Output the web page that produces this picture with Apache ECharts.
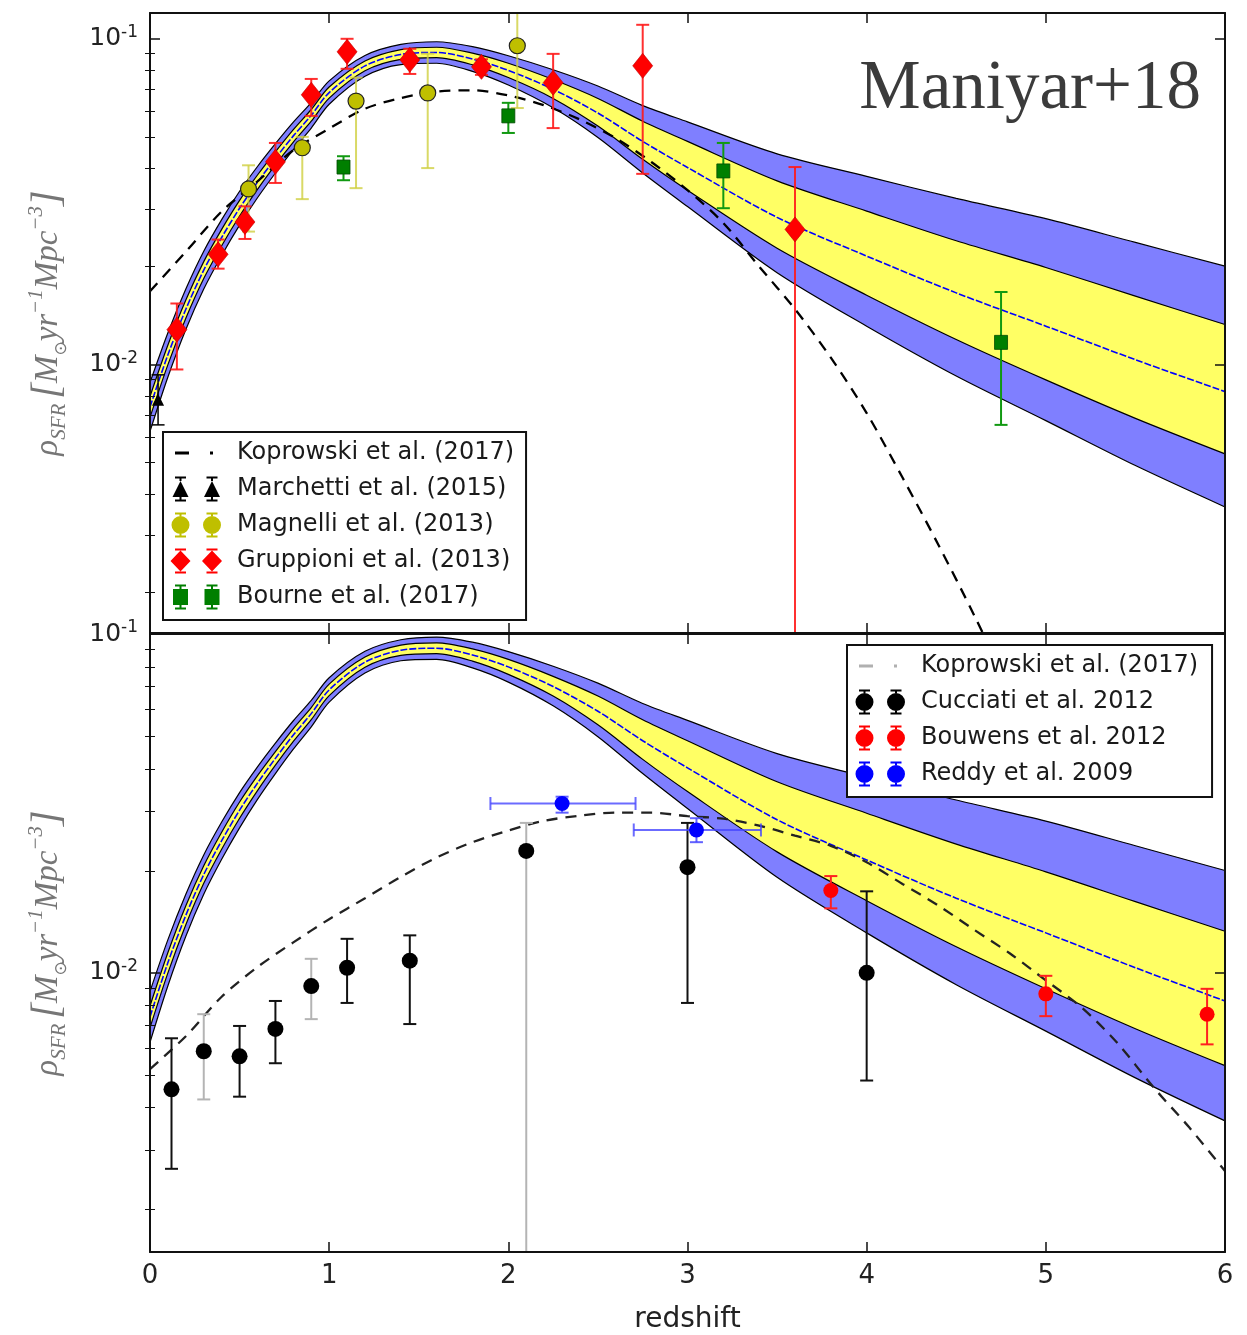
<!DOCTYPE html>
<html>
<head>
<meta charset="utf-8">
<script src="https://cdn.jsdelivr.net/npm/echarts@6/dist/echarts.min.js"></script>
<style>
  html, body { margin: 0; padding: 0; background: #fff; }
  #chart { width: 1247px; height: 1335px; }
</style>
</head>
<body>
<div id="chart"></div>
<script>
// ---------------------------------------------------------------------------
// Star-formation-rate density model (median, 1 sigma and 2 sigma envelopes)
// ---------------------------------------------------------------------------
const zModel = [0, 0.1, 0.2, 0.3, 0.4, 0.5, 0.6, 0.7, 0.8, 0.9, 1.0, 1.2, 1.4, 1.6, 1.8, 2.0, 2.25, 2.5, 2.75, 3.0, 3.5, 4.0, 4.5, 5.0, 5.5, 6.0];
const sfrdMedian = [0.00741, 0.01072, 0.01479, 0.01950, 0.02455, 0.03020, 0.03631, 0.04295, 0.05035, 0.05821, 0.06839, 0.08260, 0.08954, 0.09078, 0.08670, 0.07998, 0.06998, 0.05916, 0.04842, 0.04027, 0.02831, 0.02153, 0.01660, 0.01312, 0.01035, 0.00826];
const sfrdHi2 = [0.008810, 0.01253, 0.01706, 0.02228, 0.02786, 0.03404, 0.04055, 0.04764, 0.05546, 0.06368, 0.07430, 0.08892, 0.09616, 0.09795, 0.09462, 0.08872, 0.08035, 0.07161, 0.06237, 0.05559, 0.04436, 0.03784, 0.03236, 0.02805, 0.02371, 0.02005];
const sfrdHi1 = [0.007980, 0.01148, 0.01578, 0.02070, 0.02600, 0.03192, 0.03819, 0.04498, 0.05260, 0.06067, 0.07112, 0.08551, 0.09268, 0.09419, 0.09036, 0.08414, 0.07499, 0.06561, 0.05585, 0.04842, 0.03664, 0.02958, 0.02399, 0.01986, 0.01622, 0.01327];
const sfrdLo1 = [0.006887, 0.01000, 0.01387, 0.01837, 0.02317, 0.02858, 0.03451, 0.04102, 0.04819, 0.05585, 0.06577, 0.07980, 0.08650, 0.08750, 0.08318, 0.07603, 0.06561, 0.05395, 0.04266, 0.03428, 0.02275, 0.01633, 0.01194, 0.008974, 0.006839, 0.005321];
const sfrdLo2 = [0.006237, 0.009162, 0.01282, 0.01706, 0.02163, 0.02679, 0.03251, 0.03873, 0.04571, 0.05321, 0.06295, 0.07674, 0.08337, 0.08414, 0.07943, 0.07211, 0.06138, 0.04977, 0.03873, 0.03055, 0.01914, 0.01312, 0.009226, 0.006730, 0.004898, 0.003656];

// Koprowski et al. (2017) curves, one per panel
const zKoprowskiTop = [0, 0.2, 0.4, 0.6, 0.8, 1.0, 1.2, 1.4, 1.6, 1.8, 2.0, 2.2, 2.4, 2.6, 2.8, 3.0, 3.2, 3.4, 3.6, 3.8, 4.0, 4.2, 4.4, 4.6, 4.8];
const koprowskiTop = [0.0168, 0.0222, 0.0295, 0.0365, 0.0455, 0.0530, 0.0610, 0.0658, 0.0688, 0.0695, 0.0670, 0.0625, 0.0565, 0.0495, 0.0418, 0.0343, 0.0272, 0.0200, 0.0148, 0.0105, 0.0071, 0.0045, 0.0028, 0.0017, 0.0010];
const zKoprowskiBottom = [0, 0.2, 0.4, 0.6, 0.8, 1.0, 1.2, 1.4, 1.6, 1.8, 2.0, 2.2, 2.4, 2.6, 2.8, 3.0, 3.2, 3.4, 3.6, 3.8, 4.0, 4.2, 4.4, 4.6, 4.8, 5.0, 5.2, 5.4, 5.6, 5.8, 6.0];
const koprowskiBottom = [0.0052, 0.0065, 0.0085, 0.0104, 0.0123, 0.0144, 0.0166, 0.0192, 0.0219, 0.0243, 0.0263, 0.0281, 0.0291, 0.0297, 0.0297, 0.0290, 0.0285, 0.0272, 0.0254, 0.0237, 0.0212, 0.0183, 0.0158, 0.0134, 0.0114, 0.0095, 0.0079, 0.0062, 0.0046, 0.0035, 0.0026];

// ---------------------------------------------------------------------------
// Observations, top panel (IR-based)
// ---------------------------------------------------------------------------
const marchettiZ = [0.045];
const marchettiV = [0.0078];
const marchettiLo = [0.00653];
const marchettiHi = [0.0093];

const magnelliZ = [0.55, 0.85, 1.15, 1.55, 2.05];
const magnelliV = [0.0346, 0.0463, 0.0644, 0.0682, 0.0952];
const magnelliLo = [0.0256, 0.0322, 0.0348, 0.0401, 0.0613];
const magnelliHi = [0.0409, 0.0500, 0.0760, 0.0900, 0.1500];

const gruppioniZ = [0.15, 0.38, 0.53, 0.70, 0.90, 1.10, 1.45, 1.85, 2.25, 2.75, 3.60];
const gruppioniV = [0.0128, 0.0218, 0.0274, 0.0419, 0.0673, 0.0912, 0.0862, 0.0820, 0.0733, 0.0826, 0.0260];
const gruppioniLo = [0.00966, 0.0197, 0.0243, 0.0361, 0.0580, 0.0809, 0.0780, 0.0775, 0.0532, 0.0385, 0.0010];
const gruppioniHi = [0.0154, 0.0242, 0.0306, 0.0479, 0.0753, 0.1000, 0.0932, 0.0865, 0.0899, 0.1104, 0.0404];

const bourneZ = [1.08, 2.00, 3.20, 4.75];
const bourneV = [0.0404, 0.0580, 0.0393, 0.0117];
const bourneLo = [0.0368, 0.0514, 0.0302, 0.00653];
const bourneHi = [0.0436, 0.0636, 0.0479, 0.0167];

// ---------------------------------------------------------------------------
// Observations, bottom panel (UV/optical)
// ---------------------------------------------------------------------------
const cucciatiZ = [0.12, 0.30, 0.50, 0.70, 0.90, 1.10, 1.45, 2.10, 3.00, 4.00];
const cucciatiV = [0.00453, 0.00587, 0.00567, 0.00683, 0.00914, 0.01035, 0.01086, 0.0229, 0.0205, 0.0100];
const cucciatiLo = [0.00264, 0.00423, 0.00431, 0.00541, 0.0073, 0.00815, 0.00706, 0.0005, 0.00815, 0.00481];
const cucciatiHi = [0.00641, 0.00755, 0.00697, 0.00826, 0.0110, 0.0126, 0.0129, 0.0277, 0.0277, 0.0174];

const bouwensZ = [3.8, 5.0, 5.9];
const bouwensV = [0.0175, 0.00867, 0.00755];
const bouwensLo = [0.0155, 0.00745, 0.00615];
const bouwensHi = [0.0193, 0.0098, 0.00897];

const reddyZ = [2.30, 3.05];
const reddyV = [0.0316, 0.0264];
const reddyLo = [0.0297, 0.0243];
const reddyHi = [0.0331, 0.0286];
const reddyZLo = [1.90, 2.70];
const reddyZHi = [2.71, 3.41];

// Axis tick values
const xTicks = [0, 1, 2, 3, 4, 5, 6];
const yMinorTicks = [0.002, 0.003, 0.004, 0.005, 0.006, 0.007, 0.008, 0.009,
                     0.02, 0.03, 0.04, 0.05, 0.06, 0.07, 0.08, 0.09];

// ---------------------------------------------------------------------------
// Helpers
// ---------------------------------------------------------------------------
const pairs = (xs, ys) => xs.map((x, i) => [x, ys[i]]);
const INK = '#111';
const SANS = 'DejaVu Sans';
const SERIF = 'Liberation Serif';

// panel index -> axis indices
const AX = [{ x: 0, y: 0 }, { x: 2, y: 4 }];

// Each envelope curve is filled down to the bottom of the panel; painting
// them from the top curve to the bottom curve leaves the 2 sigma band in
// violet, the 1 sigma band in yellow and clears everything below the
// lower 2 sigma curve.
function envelopeSeries(p, values, fill, z) {
  return {
    type: 'line', xAxisIndex: AX[p].x, yAxisIndex: AX[p].y,
    data: pairs(zModel, values), smooth: 0.3, symbol: 'none', silent: true, z: z,
    lineStyle: { color: '#000', width: 1.2 },
    areaStyle: { color: fill, opacity: 1, origin: 'start' }
  };
}

function modelSeries(p) {
  return [
    envelopeSeries(p, sfrdHi2, '#7f7fff', 1),
    envelopeSeries(p, sfrdHi1, '#ffff64', 2),
    envelopeSeries(p, sfrdLo1, '#7f7fff', 3),
    envelopeSeries(p, sfrdLo2, '#ffffff', 4),
    {
      type: 'line', xAxisIndex: AX[p].x, yAxisIndex: AX[p].y,
      data: pairs(zModel, sfrdMedian), smooth: 0.3, symbol: 'none', silent: true, z: 5,
      lineStyle: { color: '#0000ff', width: 1.6, type: [7, 2] }
    }
  ];
}

function koprowskiSeries(p, zs, vs, color) {
  return {
    name: 'Koprowski et al. (2017)', type: 'line',
    xAxisIndex: AX[p].x, yAxisIndex: AX[p].y,
    data: pairs(zs, vs), smooth: 0.3, symbol: 'none', silent: true, z: 6,
    itemStyle: { color: color },
    lineStyle: { color: color, width: 2.3, type: [11, 8] }
  };
}

function yErrorSeries(p, zs, lo, hi, color, opts) {
  opts = opts || {};
  return {
    type: 'custom', xAxisIndex: AX[p].x, yAxisIndex: AX[p].y, clip: true, silent: true, z: 7,
    data: zs.map((z, i) => [z, lo[i], hi[i]]),
    encode: { x: 0, y: [1, 2] },
    renderItem(params, api) {
      const x = api.value(0);
      const a = api.coord([x, api.value(1)]);
      const b = api.coord([x, api.value(2)]);
      const stroke = opts.colorAt ? opts.colorAt(params.dataIndex) : color;
      const style = { stroke: stroke, lineWidth: opts.width || 2, opacity: opts.opacity == null ? 1 : opts.opacity };
      const c = opts.cap || 6.5;
      return {
        type: 'group', children: [
          { type: 'line', shape: { x1: a[0], y1: a[1], x2: b[0], y2: b[1] }, style: style },
          { type: 'line', shape: { x1: a[0] - c, y1: a[1], x2: a[0] + c, y2: a[1] }, style: style },
          { type: 'line', shape: { x1: b[0] - c, y1: b[1], x2: b[0] + c, y2: b[1] }, style: style }
        ]
      };
    }
  };
}

function xErrorSeries(p, zs, vs, zlo, zhi, color, opts) {
  return {
    type: 'custom', xAxisIndex: AX[p].x, yAxisIndex: AX[p].y, clip: true, silent: true, z: 7,
    data: zs.map((z, i) => [zlo[i], zhi[i], vs[i]]),
    encode: { x: [0, 1], y: 2 },
    renderItem(params, api) {
      const v = api.value(2);
      const a = api.coord([api.value(0), v]);
      const b = api.coord([api.value(1), v]);
      const style = { stroke: color, lineWidth: opts.width, opacity: opts.opacity };
      const c = opts.cap;
      return {
        type: 'group', children: [
          { type: 'line', shape: { x1: a[0], y1: a[1], x2: b[0], y2: b[1] }, style: style },
          { type: 'line', shape: { x1: a[0], y1: a[1] - c, x2: a[0], y2: a[1] + c }, style: style },
          { type: 'line', shape: { x1: b[0], y1: b[1] - c, x2: b[0], y2: b[1] + c }, style: style }
        ]
      };
    }
  };
}

function markerSeries(p, name, zs, vs, symbol, size, itemStyle) {
  return {
    name: name, type: 'scatter', xAxisIndex: AX[p].x, yAxisIndex: AX[p].y,
    data: pairs(zs, vs), symbol: symbol, symbolSize: size, silent: true, z: 8,
    itemStyle: Object.assign({ opacity: 1 }, itemStyle)
  };
}

// ---------------------------------------------------------------------------
// Legend glyphs: two markers with error bars inside a 62 x 26 box
// ---------------------------------------------------------------------------
const GLYPH_W = 62, GLYPH_H = 26, GLYPH_X = [10.5, 42];
const frame = `M0 0 M${GLYPH_W} ${GLYPH_H} `;
function rect(x0, y0, x1, y1) { return `M${x0} ${y0} H${x1} V${y1} H${x0} Z `; }
function whisker(cx, top, bottom) {
  return rect(cx - 1, 0.5, cx + 1, top) + rect(cx - 5.5, 0.5, cx + 5.5, 2.5) +
         rect(cx - 1, bottom, cx + 1, 25.5) + rect(cx - 5.5, 23.5, cx + 5.5, 25.5);
}
const shapes = {
  triangle: cx => whisker(cx, 5, 21) + `M${cx} 5 L${cx + 8} 21 L${cx - 8} 21 Z `,
  circle: cx => whisker(cx, 4, 22) + `M${cx - 9} 13 A9 9 0 1 1 ${cx + 9} 13 A9 9 0 1 1 ${cx - 9} 13 Z `,
  diamond: cx => whisker(cx, 2.5, 23.5) + `M${cx} 2.5 L${cx + 10} 13 L${cx} 23.5 L${cx - 10} 13 Z `,
  square: cx => whisker(cx, 5, 21) + rect(cx - 7.5, 5, cx + 7.5, 21)
};
function glyph(kind) { return 'path://' + frame + GLYPH_X.map(shapes[kind]).join(''); }
function dashDotGlyph() { return 'path://' + frame + rect(5, 11.5, 19, 14.5) + rect(40, 11.5, 43, 14.5); }
const glyphStyle = color => ({ color: color, borderWidth: 0, opacity: 1 });

const legendCommon = {
  orient: 'vertical', itemGap: 10, itemWidth: GLYPH_W, itemHeight: GLYPH_H,
  padding: [8, 12, 10, 7], borderColor: INK, borderWidth: 2, borderRadius: 0,
  backgroundColor: '#fff', selectedMode: false, z: 10,
  textStyle: { fontFamily: SANS, fontSize: 24, color: '#1a1a1a' }
};

// ---------------------------------------------------------------------------
// Axes (drawn above the filled envelopes, as plot frames)
// ---------------------------------------------------------------------------
function xAxis(gridIndex, position, showLabels) {
  const ax = {
    type: 'value', gridIndex, position, min: 0, max: 6, interval: 1, z: 20,
    axisLine: { show: true, onZero: false, lineStyle: { color: INK, width: 2 } },
    axisTick: { show: true, inside: true, length: 10, customValues: xTicks, lineStyle: { color: INK, width: 1.5 } },
    axisLabel: { show: showLabels, margin: 11, fontFamily: SANS, fontSize: 26, color: '#222', customValues: xTicks },
    splitLine: { show: false }
  };
  if (showLabels) {
    Object.assign(ax, {
      name: 'redshift', nameLocation: 'middle', nameGap: 54,
      nameTextStyle: { fontFamily: SANS, fontSize: 28, color: '#222' }
    });
  }
  return ax;
}

function powerLabel(v) {
  const e = Math.log10(v);
  const r = Math.round(e);
  if (Math.abs(e - r) > 1e-6) return '';
  return '{b|10}{s|' + (r < 0 ? '-' : '') + Math.abs(r) + '}';
}

const yName = '{m|ρ}{sub|SFR}{sp| }{br|[}{m|M}{o|⊙}{m|yr}{sup|−1}{m|Mpc}{sup|−3}{br|]}';
const NAME_INK = '#767676';
const yNameStyle = {
  color: NAME_INK, fontFamily: SERIF, fontStyle: 'italic', fontSize: 32,
  rich: {
    m: { fontFamily: SERIF, fontStyle: 'italic', fontSize: 33, color: NAME_INK, lineHeight: 44 },
    sub: { fontFamily: SERIF, fontStyle: 'italic', fontSize: 21, color: NAME_INK, lineHeight: 20, verticalAlign: 'bottom' },
    o: { fontFamily: 'DejaVu Sans', fontSize: 17, color: NAME_INK, lineHeight: 20, verticalAlign: 'bottom' },
    sup: { fontFamily: SERIF, fontSize: 21, color: NAME_INK, lineHeight: 22, verticalAlign: 'top' },
    br: { fontFamily: SERIF, fontSize: 40, color: NAME_INK, lineHeight: 44 },
    sp: { fontSize: 20, lineHeight: 44 }
  }
};

function yMajor(gridIndex, position, max, showLabels) {
  const ax = {
    type: 'log', logBase: 10, gridIndex, position, min: 0.0015, max: max, z: 20,
    axisLine: { show: true, onZero: false, lineStyle: { color: INK, width: 2 } },
    axisTick: { show: true, inside: true, length: 10, lineStyle: { color: INK, width: 1.5 } },
    axisLabel: {
      show: showLabels, margin: 12, formatter: powerLabel,
      showMinLabel: false, showMaxLabel: false,
      rich: {
        b: { fontFamily: SANS, fontSize: 25, color: '#222', lineHeight: 30 },
        s: { fontFamily: SANS, fontSize: 17, color: '#222', lineHeight: 17, verticalAlign: 'top' }
      }
    },
    splitLine: { show: false }
  };
  if (showLabels) {
    Object.assign(ax, {
      name: yName, nameLocation: 'middle', nameGap: 80, nameRotate: 90, nameTextStyle: yNameStyle
    });
  }
  return ax;
}

function yMinor(gridIndex, position, max) {
  return {
    type: 'log', logBase: 10, gridIndex, position, min: 0.0015, max: max, offset: 0, z: 20,
    axisLine: { show: false },
    axisTick: { show: true, inside: true, length: 5, customValues: yMinorTicks, lineStyle: { color: INK, width: 1 } },
    axisLabel: { show: false },
    splitLine: { show: false }
  };
}

// ---------------------------------------------------------------------------
// Chart
// ---------------------------------------------------------------------------
const chart = echarts.init(document.getElementById('chart'), null, { renderer: 'canvas' });

const option = {
  animation: false,
  backgroundColor: '#fff',
  title: {
    text: 'Maniyar+18', right: 46, top: 55, padding: 0, z: 10,
    textStyle: { fontFamily: SERIF, fontSize: 69, fontWeight: 'normal', color: '#3b3b3b' }
  },
  grid: [
    { left: 150, top: 13, width: 1075, height: 620 },
    { left: 150, top: 634, width: 1075, height: 621 }
  ],
  xAxis: [
    xAxis(0, 'bottom', false), xAxis(0, 'top', false),
    xAxis(1, 'bottom', true), xAxis(1, 'top', false)
  ],
  yAxis: [
    yMajor(0, 'left', 0.12, true), yMajor(0, 'right', 0.12, false),
    yMinor(0, 'left', 0.12), yMinor(0, 'right', 0.12),
    yMajor(1, 'left', 0.1, true), yMajor(1, 'right', 0.1, false),
    yMinor(1, 'left', 0.1), yMinor(1, 'right', 0.1)
  ],
  legend: [
    Object.assign({}, legendCommon, {
      left: 163, top: 432,
      data: [
        { name: 'Koprowski et al. (2017)', icon: dashDotGlyph(), itemStyle: glyphStyle('#000') },
        { name: 'Marchetti et al. (2015)', icon: glyph('triangle'), itemStyle: glyphStyle('#000') },
        { name: 'Magnelli et al. (2013)', icon: glyph('circle'), itemStyle: glyphStyle('#bfbf00') },
        { name: 'Gruppioni et al. (2013)', icon: glyph('diamond'), itemStyle: glyphStyle('#ff0000') },
        { name: 'Bourne et al. (2017)', icon: glyph('square'), itemStyle: glyphStyle('#007f00') }
      ]
    }),
    Object.assign({}, legendCommon, {
      left: 847, top: 645, padding: [8, 14, 10, 7],
      data: [
        { name: 'Koprowski et al. (2017)', icon: dashDotGlyph(), itemStyle: glyphStyle('#b0b0b0') },
        { name: 'Cucciati et al. 2012', icon: glyph('circle'), itemStyle: glyphStyle('#000') },
        { name: 'Bouwens et al. 2012', icon: glyph('circle'), itemStyle: glyphStyle('#ff0000') },
        { name: 'Reddy et al. 2009', icon: glyph('circle'), itemStyle: glyphStyle('#0000ff') }
      ]
    })
  ],
  series: [
    // top panel
    ...modelSeries(0),
    koprowskiSeries(0, zKoprowskiTop, koprowskiTop, '#000'),
    yErrorSeries(0, marchettiZ, marchettiLo, marchettiHi, '#000', { width: 1.5 }),
    yErrorSeries(0, magnelliZ, magnelliLo, magnelliHi, '#cfcf40', { width: 2, opacity: 0.8 }),
    yErrorSeries(0, gruppioniZ, gruppioniLo, gruppioniHi, '#ff1a1a', { width: 2, opacity: 0.9 }),
    yErrorSeries(0, bourneZ, bourneLo, bourneHi, '#119911', { width: 2 }),
    markerSeries(0, 'Marchetti et al. (2015)', marchettiZ, marchettiV, 'triangle', 12, { color: '#000' }),
    markerSeries(0, 'Magnelli et al. (2013)', magnelliZ, magnelliV, 'circle', 16, { color: '#bfbf00', borderColor: '#222', borderWidth: 1.2 }),
    markerSeries(0, 'Gruppioni et al. (2013)', gruppioniZ, gruppioniV, 'diamond', [20, 25], { color: '#ff0000', borderColor: '#c00000', borderWidth: 0.6 }),
    markerSeries(0, 'Bourne et al. (2017)', bourneZ, bourneV, 'rect', [13, 14], { color: '#007f00', borderColor: '#004a00', borderWidth: 0.8 }),

    // bottom panel
    ...modelSeries(1),
    koprowskiSeries(1, zKoprowskiBottom, koprowskiBottom, '#222'),
    yErrorSeries(1, cucciatiZ, cucciatiLo, cucciatiHi, '#111', {
      width: 2, colorAt: i => (i === 1 || i === 4 || i === 7) ? '#b4b4b4' : '#111'
    }),
    yErrorSeries(1, bouwensZ, bouwensLo, bouwensHi, '#ff2020', { width: 2 }),
    yErrorSeries(1, reddyZ, reddyLo, reddyHi, '#4646ff', { width: 2, opacity: 0.85 }),
    xErrorSeries(1, reddyZ, reddyV, reddyZLo, reddyZHi, '#4646ff', { width: 2, opacity: 0.8, cap: 6.5 }),
    markerSeries(1, 'Cucciati et al. 2012', cucciatiZ, cucciatiV, 'circle', 16, { color: '#000' }),
    markerSeries(1, 'Bouwens et al. 2012', bouwensZ, bouwensV, 'circle', 15, { color: '#ff0000' }),
    markerSeries(1, 'Reddy et al. 2009', reddyZ, reddyV, 'circle', 15, { color: '#0000ff' })
  ]
};

chart.setOption(option);
</script>
</body>
</html>
